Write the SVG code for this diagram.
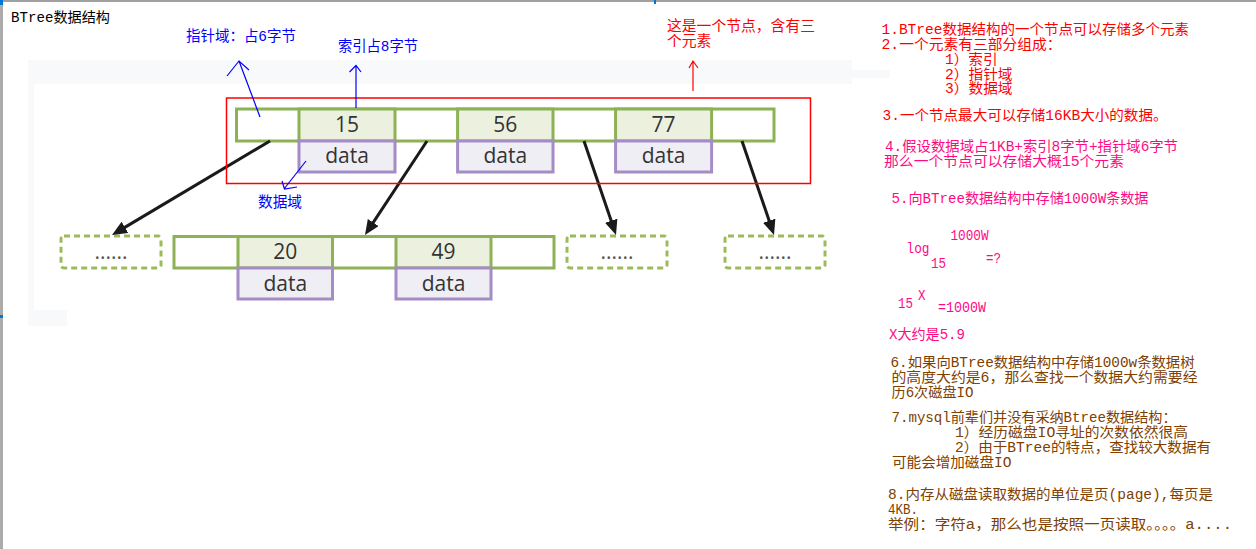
<svg xmlns="http://www.w3.org/2000/svg" width="1256" height="549" viewBox="0 0 1256 549">
  <defs>
    <style>
      .t { font-family: "Liberation Mono", "Noto Sans CJK SC", monospace; font-size: 14px; }
      .lbl { font-family: "Liberation Mono", "Noto Sans CJK SC", monospace; font-size: 14.5px; }
      .blue { fill: #0000ff; }
      .red { fill: #ff0000; }
      .pink { fill: #ff0a84; }
      .brown { fill: #804000; }
      .cell { fill: #ffffff; stroke: #8db255; stroke-width: 3; }
      .key { fill: #ebf1de; stroke: #8db255; stroke-width: 3; }
      .data { fill: #f0eef5; stroke: #a58cc6; stroke-width: 3; }
      .stub { fill: #ffffff; stroke: #9bbb59; stroke-width: 3; stroke-dasharray: 6 4; }
      .num { font-family: "Open Sans", "Noto Sans", sans-serif; font-size: 21px; fill: #333333; text-anchor: middle; }
      .dots { font-family: "Open Sans", "Noto Sans", sans-serif; font-size: 21px; fill: #555555; text-anchor: middle; }
      .edge { stroke: #1a1a1a; stroke-width: 3; fill: none; marker-end: url(#head); }
      .note { fill: none; stroke-width: 1.2; }
    </style>
    <marker id="head" markerUnits="userSpaceOnUse" markerWidth="16" markerHeight="14" refX="5" refY="6.5" orient="auto">
      <path d="M0,0 L15,6.5 L0,13 z" fill="#1a1a1a"/>
    </marker>
  </defs>

  <!-- canvas frame -->
  <rect x="0" y="0" width="1256" height="549" fill="#ffffff"/>
  <rect x="0" y="0" width="1256" height="2" fill="#a0a0a0"/>
  <rect x="0" y="5" width="3" height="544" fill="#ababab"/>
  <rect x="0" y="0" width="3" height="5" fill="#0078d7"/>
  <rect x="0" y="315" width="3" height="3" fill="#0078d7"/>
  <rect x="654" y="0" width="2" height="4" fill="#0078d7"/>

  <!-- light backdrop of the embedded figure -->
  <path d="M28,60 H852 V70 H890 V78 H852 V84 H34 V310 H67 V326 H28 Z" fill="#f8f9fb"/>

  <text class="t" x="11" y="22" fill="#000000" font-size="15" textLength="99" lengthAdjust="spacingAndGlyphs">BTree数据结构</text>

  <!-- root node -->
  <g id="node-root">
    <rect class="cell" x="236.5" y="109" width="537.5" height="32"/>
    <rect class="key" x="299" y="109" width="96" height="32"/>
    <rect class="key" x="457.6" y="109" width="95.4" height="32"/>
    <rect class="key" x="615.6" y="109" width="96" height="32"/>
    <rect class="data" x="299" y="141" width="96" height="31"/>
    <rect class="data" x="457.6" y="141" width="95.4" height="31"/>
    <rect class="data" x="615.6" y="141" width="96" height="31"/>
    <text class="num" x="347" y="131.5">15</text>
    <text class="num" x="505.3" y="131.5">56</text>
    <text class="num" x="663.6" y="131.5">77</text>
    <text class="num" x="347" y="163.3">data</text>
    <text class="num" x="505.3" y="163.3">data</text>
    <text class="num" x="663.6" y="163.3">data</text>
  </g>

  <!-- child nodes -->
  <g id="node-child-1">
    <rect class="stub" x="61" y="236" width="100" height="32" rx="3"/>
    <text class="dots" x="111" y="259">......</text>
  </g>
  <g id="node-child-2">
    <rect class="cell" x="174" y="236.5" width="380" height="31.5"/>
    <rect class="key" x="238" y="236.5" width="94.5" height="31.5"/>
    <rect class="key" x="396" y="236.5" width="95" height="31.5"/>
    <rect class="data" x="238" y="268" width="94.5" height="31"/>
    <rect class="data" x="396" y="268" width="95" height="31"/>
    <text class="num" x="285.3" y="258.5">20</text>
    <text class="num" x="443.5" y="258.5">49</text>
    <text class="num" x="285.3" y="290.5">data</text>
    <text class="num" x="443.5" y="290.5">data</text>
  </g>
  <g id="node-child-3">
    <rect class="stub" x="567" y="236" width="100" height="32" rx="3"/>
    <text class="dots" x="617" y="259">......</text>
  </g>
  <g id="node-child-4">
    <rect class="stub" x="725" y="236" width="100" height="32" rx="3"/>
    <text class="dots" x="775" y="259">......</text>
  </g>

  <!-- child pointers -->
  <g id="connectors">
    <path class="edge" d="M270,141 L120.6,229.9"/>
    <path class="edge" d="M427,141 L370.5,226.7"/>
    <path class="edge" d="M584,141 L612.8,225.5"/>
    <path class="edge" d="M742,141 L770.8,225.5"/>
  </g>

  <!-- annotations on the figure -->
  <g id="annotation-node">
    <rect x="226.5" y="98" width="584" height="85.5" fill="none" stroke="#ff0000" stroke-width="1.5"/>
    <path class="note" stroke="#ff0000" d="M693,91 V62 M689,68 L693,61 L698,68"/>
    <text class="lbl red" x="667" y="31" textLength="148" lengthAdjust="spacingAndGlyphs">这是一个节点，含有三</text>
    <text class="lbl red" x="667" y="46" textLength="44.4" lengthAdjust="spacingAndGlyphs">个元素</text>
  </g>
  <g id="annotation-pointer">
    <path class="note" stroke="#0000ff" d="M260,117 L239,61 M227,76 L239,61 L249,70"/>
    <text class="lbl blue" x="186" y="41" textLength="110" lengthAdjust="spacingAndGlyphs">指针域：占6字节</text>
  </g>
  <g id="annotation-index">
    <path class="note" stroke="#0000ff" d="M356,108 V66 M349.5,72 L356,65.5 L361,72"/>
    <text class="lbl blue" x="338" y="51" textLength="80" lengthAdjust="spacingAndGlyphs">索引占8字节</text>
  </g>
  <g id="annotation-data">
    <path class="note" stroke="#0000ff" d="M306,161 L284,189 M282,181 L284.5,189 L297,187"/>
    <text class="lbl blue" x="258" y="207" textLength="44" lengthAdjust="spacingAndGlyphs">数据域</text>
  </g>

  <!-- notes panel -->
  <g id="notes">
    <text class="t red" x="881.5" y="34" textLength="307.5" lengthAdjust="spacingAndGlyphs">1.BTree数据结构的一个节点可以存储多个元素</text>
    <text class="t red" x="881.5" y="49" textLength="180" lengthAdjust="spacingAndGlyphs">2.一个元素有三部分组成：</text>
    <text class="t red" x="945" y="64" textLength="52.5" lengthAdjust="spacingAndGlyphs">1）索引</text>
    <text class="t red" x="945" y="78.5" textLength="67.5" lengthAdjust="spacingAndGlyphs">2）指针域</text>
    <text class="t red" x="945" y="93" textLength="67.5" lengthAdjust="spacingAndGlyphs">3）数据域</text>
    <text class="t red" x="882.5" y="120" textLength="285" lengthAdjust="spacingAndGlyphs">3.一个节点最大可以存储16KB大小的数据。</text>

    <text class="t pink" x="885" y="151" textLength="293" lengthAdjust="spacingAndGlyphs">4.假设数据域占1KB+索引8字节+指针域6字节</text>
    <text class="t pink" x="884" y="166" textLength="240" lengthAdjust="spacingAndGlyphs">那么一个节点可以存储大概15个元素</text>
    <text class="t pink" x="891.5" y="203" textLength="257" lengthAdjust="spacingAndGlyphs">5.向BTree数据结构中存储1000W条数据</text>
    <text class="t pink" x="950.5" y="240" textLength="38" lengthAdjust="spacingAndGlyphs">1000W</text>
    <text class="t pink" x="906.5" y="253" textLength="23" lengthAdjust="spacingAndGlyphs">log</text>
    <text class="t pink" x="931" y="268" textLength="15" lengthAdjust="spacingAndGlyphs">15</text>
    <text class="t pink" x="986" y="263" textLength="15" lengthAdjust="spacingAndGlyphs">=?</text>
    <text class="t pink" x="898" y="308" textLength="15" lengthAdjust="spacingAndGlyphs">15</text>
    <text class="t pink" x="918" y="300" textLength="7.5" lengthAdjust="spacingAndGlyphs">X</text>
    <text class="t pink" x="938" y="312" textLength="48" lengthAdjust="spacingAndGlyphs">=1000W</text>
    <text class="t pink" x="889" y="339" textLength="76" lengthAdjust="spacingAndGlyphs">X大约是5.9</text>

    <text class="t brown" x="890.5" y="367" textLength="304" lengthAdjust="spacingAndGlyphs">6.如果向BTree数据结构中存储1000w条数据树</text>
    <text class="t brown" x="891.5" y="382" textLength="306" lengthAdjust="spacingAndGlyphs">的高度大约是6，那么查找一个数据大约需要经</text>
    <text class="t brown" x="891.5" y="397" textLength="82" lengthAdjust="spacingAndGlyphs">历6次磁盘IO</text>
    <text class="t brown" x="891.5" y="421.5" textLength="285" lengthAdjust="spacingAndGlyphs">7.mysql前辈们并没有采纳Btree数据结构：</text>
    <text class="t brown" x="955" y="436.5" textLength="233" lengthAdjust="spacingAndGlyphs">1）经历磁盘IO寻址的次数依然很高</text>
    <text class="t brown" x="955" y="451.5" textLength="256" lengthAdjust="spacingAndGlyphs">2）由于BTree的特点，查找较大数据有</text>
    <text class="t brown" x="892" y="467" textLength="119.5" lengthAdjust="spacingAndGlyphs">可能会增加磁盘IO</text>
    <text class="t brown" x="888" y="498.5" textLength="325" lengthAdjust="spacingAndGlyphs">8.内存从磁盘读取数据的单位是页(page),每页是</text>
    <text class="t brown" x="888" y="513.5" textLength="30" lengthAdjust="spacingAndGlyphs">4KB.</text>
    <text class="t brown" x="888" y="528.5" textLength="344" lengthAdjust="spacingAndGlyphs">举例：字符a，那么也是按照一页读取。。。。a....</text>
  </g>
</svg>
